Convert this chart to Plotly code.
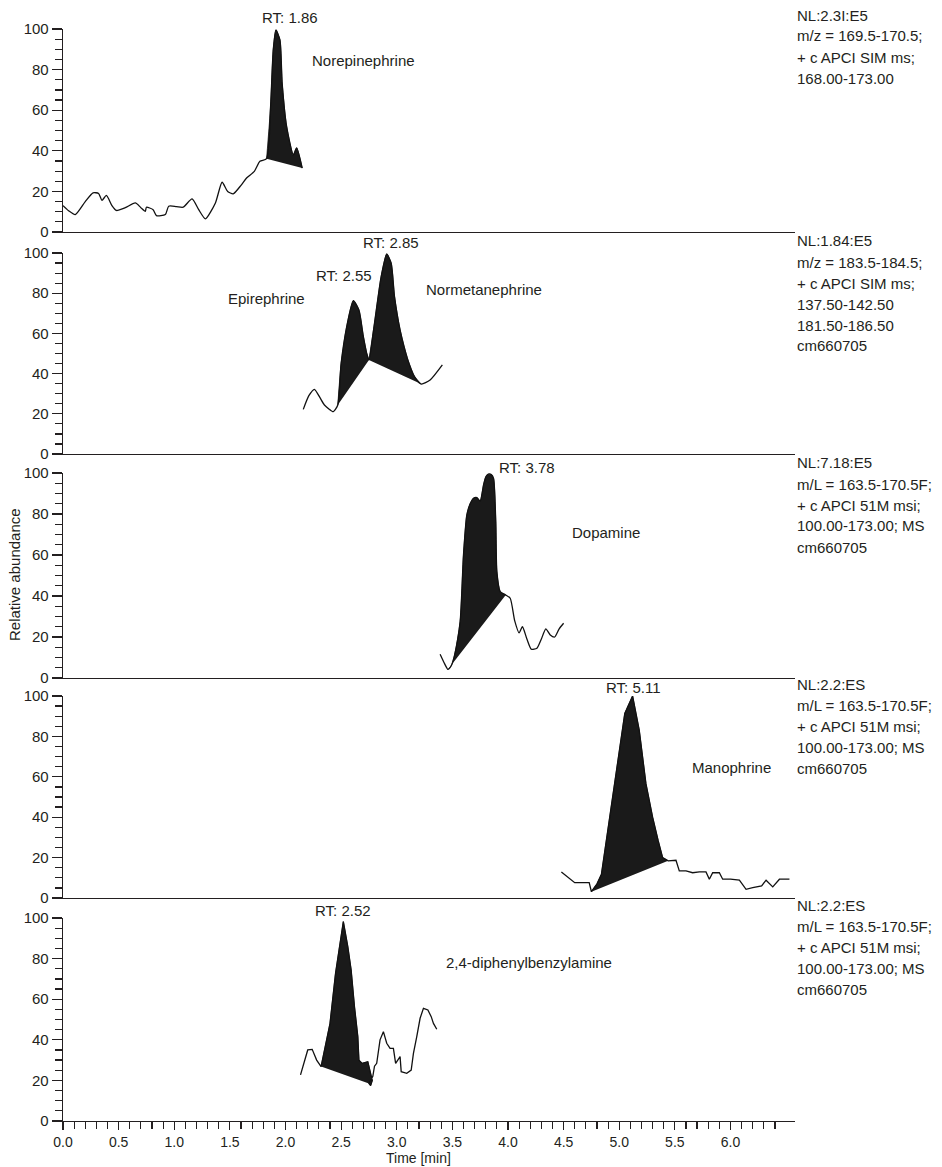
import plotly.graph_objects as go
from plotly.subplots import make_subplots

# ---------------- data ----------------
# Panel 1 : Norepinephrine
P1_T = [0.00, 0.05, 0.11, 0.20, 0.27, 0.32, 0.35, 0.39, 0.44, 0.48, 0.56, 0.65, 0.70, 0.74, 0.75,
        0.81, 0.84, 0.92, 0.95, 1.02, 1.08, 1.16, 1.22, 1.28, 1.37, 1.43, 1.48, 1.53, 1.60, 1.65,
        1.72, 1.77, 1.83, 1.866, 1.89, 1.914, 1.95, 1.97, 2.01, 2.07, 2.10, 2.15]
P1_V = [13.0, 10.5, 8.6, 15.0, 19.3, 19.0, 15.6, 18.0, 13.0, 10.6, 12.0, 14.3, 12.0, 10.2, 12.2,
        11.0, 8.1, 8.6, 12.7, 12.5, 12.2, 16.3, 11.0, 6.5, 14.3, 24.5, 20.0, 18.8, 23.0, 26.6,
        29.9, 34.8, 36.1, 61.8, 89.7, 99.5, 94.6, 73.3, 52.0, 38.0, 41.4, 31.5]
P1_PEAKS = [(1.83, 2.15)]

# Panel 2 : Epirephrine / Normetanephrine
P2_T = [2.16, 2.21, 2.26, 2.31, 2.35, 2.43, 2.47, 2.50, 2.55, 2.61, 2.66, 2.70, 2.73, 2.75,
        2.80, 2.86, 2.91, 2.95, 2.98, 3.03, 3.10, 3.16, 3.22, 3.30, 3.41]
P2_V = [22.2, 29.0, 32.2, 28.0, 24.4, 21.1, 24.4, 45.0, 63.3, 76.3, 71.6, 58.4, 50.1, 46.8,
        65.0, 88.2, 99.5, 94.9, 78.3, 61.7, 46.8, 38.5, 34.8, 36.8, 44.3]
P2_PEAKS = [(2.47, 2.75), (2.75, 3.22)]

# Panel 3 : Dopamine
P3_T = [3.39, 3.43, 3.46, 3.49, 3.52, 3.57, 3.60, 3.63, 3.66, 3.69, 3.72, 3.75, 3.78, 3.80,
        3.82, 3.85, 3.87, 3.89, 3.90, 3.93, 3.98, 4.02, 4.06, 4.10, 4.13, 4.17, 4.21, 4.26,
        4.30, 4.34, 4.38, 4.42, 4.46, 4.50]
P3_V = [11.6, 7.0, 4.2, 6.0, 11.2, 27.5, 60.0, 79.5, 85.0, 87.7, 88.0, 86.3, 94.1, 98.0,
        99.4, 99.2, 97.4, 76.3, 51.9, 42.1, 40.5, 38.9, 28.0, 22.0, 25.0, 19.0, 14.0, 14.5,
        19.0, 24.0, 21.0, 20.0, 24.0, 26.7]
P3_PEAKS = [(3.46, 3.98)]

# Panel 4 : Manophrine
P4_T = [4.48, 4.60, 4.73, 4.75, 4.80, 4.84, 4.91, 5.00, 5.05, 5.12, 5.18, 5.24, 5.30, 5.35,
        5.39, 5.44, 5.48, 5.51, 5.54, 5.60, 5.66, 5.72, 5.78, 5.81, 5.84, 5.90, 5.93, 6.00,
        6.08, 6.14, 6.20, 6.28, 6.32, 6.38, 6.44, 6.53]
P4_V = [12.9, 7.6, 7.6, 3.1, 7.0, 11.7, 38.3, 71.4, 91.4, 100.0, 83.0, 56.6, 40.0, 28.4,
        20.0, 18.4, 18.7, 18.7, 13.4, 13.4, 12.5, 12.9, 12.9, 9.3, 12.5, 12.5, 9.3, 9.3,
        8.8, 4.3, 5.1, 6.0, 8.8, 5.5, 9.3, 9.3]
P4_PEAKS = [(4.75, 5.44)]

# Panel 5 : 2,4-diphenylbenzylamine
P5_T = [2.135, 2.17, 2.20, 2.24, 2.28, 2.32, 2.40, 2.45, 2.48, 2.52, 2.56, 2.59, 2.62, 2.65,
        2.66, 2.69, 2.74, 2.76, 2.78, 2.765, 2.75, 2.785, 2.80, 2.82, 2.85, 2.88, 2.91, 2.94,
        2.97, 2.99, 3.03, 3.04, 3.09, 3.13, 3.15, 3.18, 3.21, 3.24, 3.28, 3.31, 3.33, 3.36]
P5_V = [22.7, 30.0, 35.0, 35.3, 30.0, 26.8, 48.0, 72.8, 84.2, 98.2, 85.9, 74.4, 56.3, 41.6,
        30.0, 28.4, 29.2, 24.0, 20.0, 17.5, 18.5, 22.0, 27.0, 28.4, 40.0, 44.0, 38.3, 35.8,
        35.8, 28.4, 31.7, 24.3, 23.5, 25.1, 33.3, 41.6, 50.6, 55.5, 54.7, 51.4, 48.1, 45.2]
P5_PEAKS = [(2.32, 2.75)]

# Peak labels: (text, time, value)
P1_LABELS = [("RT: 1.86", 2.04, 105.5), ("Norepinephrine", 2.70, 84.5)]
P2_LABELS = [("RT: 2.85", 2.945, 105.0), ("RT: 2.55", 2.53, 89.0),
             ("Epirephrine", 1.83, 77.5), ("Normetanephrine", 3.78, 82.0)]
P3_LABELS = [("RT: 3.78", 4.17, 102.6), ("Dopamine", 4.88, 71.2)]
P4_LABELS = [("RT: 5.11", 5.12, 104.0), ("Manophrine", 6.01, 64.8)]
P5_LABELS = [("RT: 2.52", 2.52, 103.6), ("2,4-diphenylbenzylamine", 4.19, 78.0)]

# Acquisition info blocks (right side)
P1_INFO = ["NL:2.3I:E5", "m/z = 169.5-170.5;", "+ c APCI SIM ms;", "168.00-173.00"]
P2_INFO = ["NL:1.84:E5", "m/z = 183.5-184.5;", "+ c APCI SIM ms;", "137.50-142.50",
           "181.50-186.50", "cm660705"]
P3_INFO = ["NL:7.18:E5", "m/L = 163.5-170.5F;", "+ c APCI 51M msi;", "100.00-173.00; MS", "cm660705"]
P4_INFO = ["NL:2.2:ES", "m/L = 163.5-170.5F;", "+ c APCI 51M msi;", "100.00-173.00; MS", "cm660705"]
P5_INFO = ["NL:2.2:ES", "m/L = 163.5-170.5F;", "+ c APCI 51M msi;", "100.00-173.00; MS", "cm660705"]

X_TICKS = [0.0, 0.5, 1.0, 1.5, 2.0, 2.5, 3.0, 3.5, 4.0, 4.5, 5.0, 5.5, 6.0]
X_TICKTEXT = ["0.0", "0.5", "1.0", "1.5", "2.0", "2.5", "3.0", "3.5", "4.0", "4.5", "5.0", "5.5", "6.0"]
X_MINOR = [round(0.1 * k, 1) for k in range(0, 65)]
Y_TICKS = [0, 20, 40, 60, 80, 100]

# ---------------- layout geometry (pixels) ----------------
W, H = 942, 1167
ML, MR = 63, 147
PANEL_PX = [(29, 232), (253, 454), (473, 678), (696, 898), (918, 1121)]
INFO_Y = [15, 241, 463, 684, 905]
INFO_STEP = 21
SMOOTH = [True, True, True, False, False]

FONT = "Liberation Sans, Arial, Helvetica, sans-serif"
INK = "#231f20"

panels = [
    (P1_T, P1_V, P1_PEAKS, P1_LABELS, P1_INFO),
    (P2_T, P2_V, P2_PEAKS, P2_LABELS, P2_INFO),
    (P3_T, P3_V, P3_PEAKS, P3_LABELS, P3_INFO),
    (P4_T, P4_V, P4_PEAKS, P4_LABELS, P4_INFO),
    (P5_T, P5_V, P5_PEAKS, P5_LABELS, P5_INFO),
]

fig = make_subplots(rows=5, cols=1)
annotations = []

for i, (T, V, peaks, labels, info) in enumerate(panels):
    row = i + 1
    shape = "spline" if SMOOTH[i] else "linear"
    for (ts, te) in peaks:
        i0, i1 = T.index(ts), T.index(te)
        fig.add_trace(go.Scatter(x=T[i0:i1 + 1], y=V[i0:i1 + 1], mode="lines", fill="toself",
                                 fillcolor="#1a1a1a",
                                 line=dict(color="#1a1a1a", width=0.8, shape=shape, smoothing=0.6),
                                 hoverinfo="skip", showlegend=False), row=row, col=1)
    fig.add_trace(go.Scatter(x=T, y=V, mode="lines",
                             line=dict(color="#111111", width=1.3, shape=shape, smoothing=0.6),
                             showlegend=False), row=row, col=1)
    xa = "x" if row == 1 else f"x{row}"
    ya = "y" if row == 1 else f"y{row}"
    for (txt, tx, ty) in labels:
        annotations.append(dict(text=txt, x=tx, y=ty / 100.0, xref=xa, yref=f"{ya} domain",
                                showarrow=False,
                                font=dict(family=FONT, size=15, color=INK),
                                xanchor="center", yanchor="middle"))
    for k, line in enumerate(info):
        py = INFO_Y[i] + k * INFO_STEP
        annotations.append(dict(text=line, x=1.0, y=1 - py / H, xref="paper", yref="paper",
                                xshift=0, showarrow=False, xanchor="left", yanchor="middle",
                                font=dict(family=FONT, size=15, color=INK)))

    top, bot = PANEL_PX[i]
    dom = [1 - bot / H, 1 - top / H]
    yk = "yaxis" if row == 1 else f"yaxis{row}"
    xk = "xaxis" if row == 1 else f"xaxis{row}"
    fig.layout[yk].update(domain=dom, range=[0, 100], tickvals=Y_TICKS, ticks="outside",
                          ticklen=10, tickwidth=1.2, tickcolor=INK, showline=True, linewidth=1.3,
                          linecolor=INK, showgrid=False, zeroline=False, automargin=False,
                          minor=dict(dtick=5, ticks="outside", ticklen=7, tickwidth=1.2,
                                     tickcolor=INK, showgrid=False),
                          tickfont=dict(family=FONT, size=15, color=INK))
    xupd = dict(domain=[0, 1], range=[0, 6.58], showline=True, linewidth=1.3, linecolor=INK,
                showgrid=False, zeroline=False, automargin=False)
    if row < 5:
        xupd.update(showticklabels=False, ticks="")
    else:
        xupd.update(tickvals=X_TICKS, ticktext=X_TICKTEXT, ticks="outside", ticklen=8,
                    tickwidth=1.2, tickcolor=INK,
                    minor=dict(tickvals=X_MINOR, ticks="outside", ticklen=7, tickwidth=1.2,
                               tickcolor=INK, showgrid=False),
                    tickfont=dict(family=FONT, size=14, color=INK))
    fig.layout[xk].update(**xupd)

annotations.append(dict(text="Relative abundance", x=(15 - ML) / (W - ML - MR), y=1 - 575 / H,
                        xref="paper", yref="paper", textangle=-90, showarrow=False,
                        xanchor="center", yanchor="middle",
                        font=dict(family=FONT, size=15, color=INK)))
annotations.append(dict(text="Time [min]", x=(418 - ML) / (W - ML - MR), y=1 - 1158 / H,
                        xref="paper", yref="paper", showarrow=False,
                        xanchor="center", yanchor="middle",
                        font=dict(family=FONT, size=14, color=INK)))

fig.update_layout(width=W, height=H, margin=dict(l=ML, r=MR, t=0, b=0, autoexpand=False),
                  paper_bgcolor="white", plot_bgcolor="white",
                  annotations=annotations, showlegend=False, hovermode=False,
                  font=dict(family=FONT, size=15, color=INK))

fig.write_html("out.html", config={"displayModeBar": False, "staticPlot": True},
               post_script="document.body.style.margin='0';document.body.style.overflow='hidden';")
